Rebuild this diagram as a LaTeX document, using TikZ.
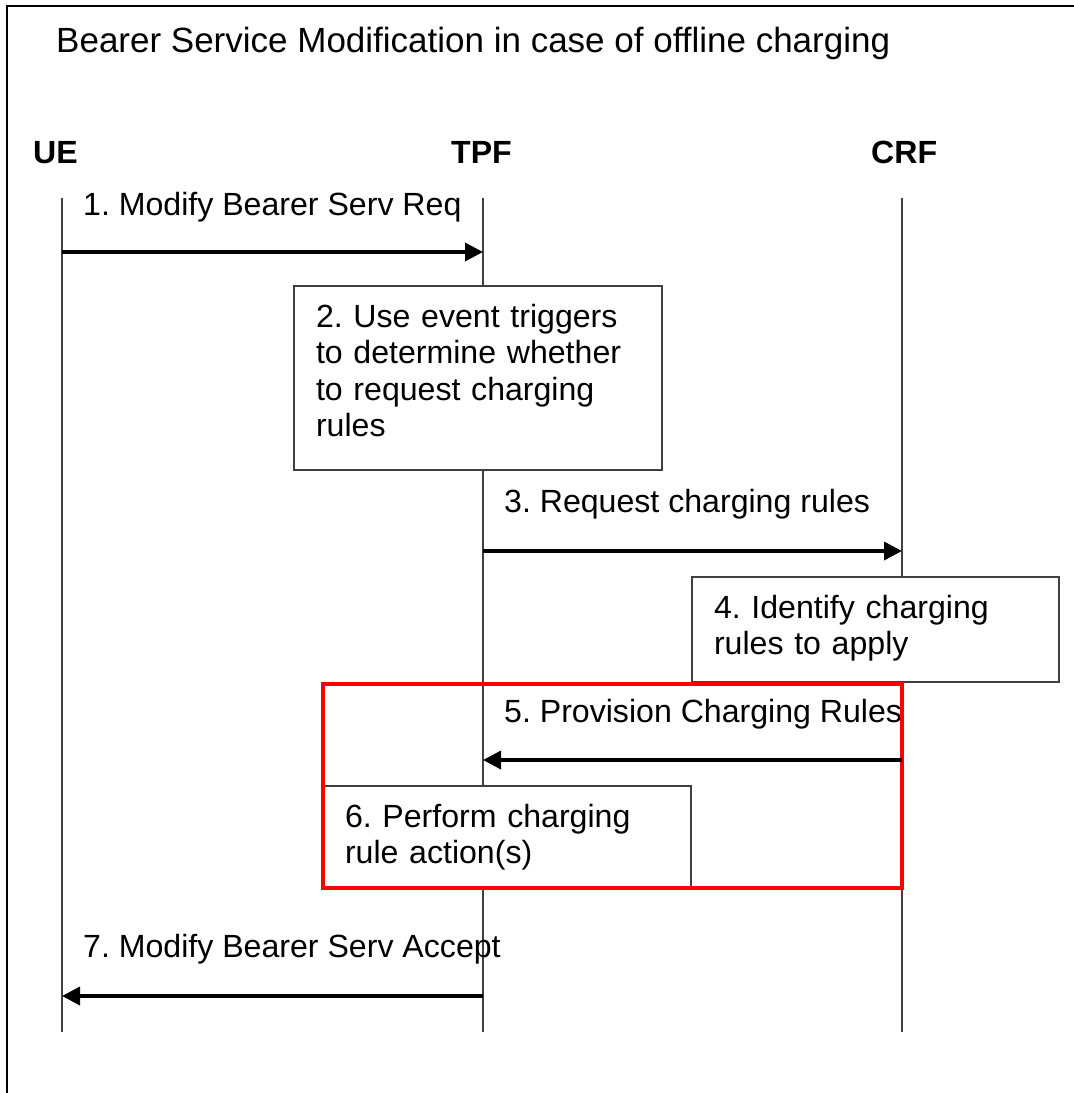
\documentclass[tikz,border=0pt]{standalone}
\usepackage{fontspec}
\setmainfont{Liberation Sans}
\usepackage{tikz}
\usetikzlibrary{arrows.meta,calc}
\newcommand{\diafont}{\fontsize{32.1}{36.6}\selectfont}
\tikzset{
    >={Triangle[length=18pt,width=18pt]},
    actor/.style={
        font=\diafont\bfseries,
        inner sep=0pt,
        anchor=base west,
    },
    lifeline/.style={
        draw=black!75,
        line width=1.5pt,
    },
    msg/.style={
        ->,
        line width=3.5pt,
    },
    msglabel/.style={
        font=\diafont,
        inner sep=0pt,
        anchor=base west,
    },
    stepbox/.style={
        font=\diafont,
        draw=black!75,
        line width=1.5pt,
        fill=white,
        anchor=north west,
        align=left,
        outer sep=0pt,
        inner xsep=22pt,
        inner ysep=0pt,
        text height=41pt,
    },
    highlight/.style={
        draw=red,
        line width=4pt,
    },
}

\begin{document}
\frenchspacing
\begin{tikzpicture}[x=1pt,y=-1pt]
            \useasboundingbox (0,0) rectangle (1074,1093);
            \draw[line width=2pt] (7,1093) -- (7,6) -- (1074,6);

            \node[msglabel, font=\fontsize{35}{40}\selectfont] (title) at (56,52)
                {Bearer Service Modification in case of offline charging};

            \node[actor] (ue) at (33,163) {UE};
            \node[actor] (tpf) at (451,163) {TPF};
            \node[actor] (crf) at (871,163) {CRF};

            \foreach \who/\x in {ue/62,tpf/483,crf/902} {
                \coordinate (\who-top) at (\x,198);
                \coordinate (\who-bot) at (\x,1032);
                \draw[lifeline] (\who-top) -- (\who-bot);
            }

            \coordinate (ue-1) at (62,252);   \coordinate (tpf-1) at (483,252);
            \coordinate (tpf-3) at (483,551); \coordinate (crf-3) at (902,551);
            \coordinate (crf-5) at (902,760); \coordinate (tpf-5) at (483,760);
            \coordinate (tpf-7) at (483,996); \coordinate (ue-7) at (62,996);

            \node[msglabel] (m1) at (83,215) {1. Modify Bearer Serv Req};
            \node[stepbox, text width=324pt, text depth=143pt] (s2) at (294,286)
                {2. Use event triggers\\to determine whether\\to request charging\\rules};
            \node[msglabel] (m3) at (504,512) {3. Request charging rules};
            \node[stepbox, text width=323pt, text depth=64pt] (s4) at (692,577)
                {4. Identify charging\\rules to apply};
            \node[msglabel] (m5) at (504,722) {5. Provision Charging Rules};
            \node[stepbox, text width=324pt, text depth=60pt] (s6) at (323,786)
                {6. Perform charging\\rule action(s)};
            \node[msglabel] (m7) at (83,957) {7. Modify Bearer Serv Accept};

            \draw[highlight] (323,684) rectangle (902,888);

            \draw[msg] (ue-1) -- (tpf-1);
            \draw[msg] (tpf-3) -- (crf-3);
            \draw[msg] (crf-5) -- (tpf-5);
            \draw[msg] (tpf-7) -- (ue-7);
        \end{tikzpicture}
\end{document}
